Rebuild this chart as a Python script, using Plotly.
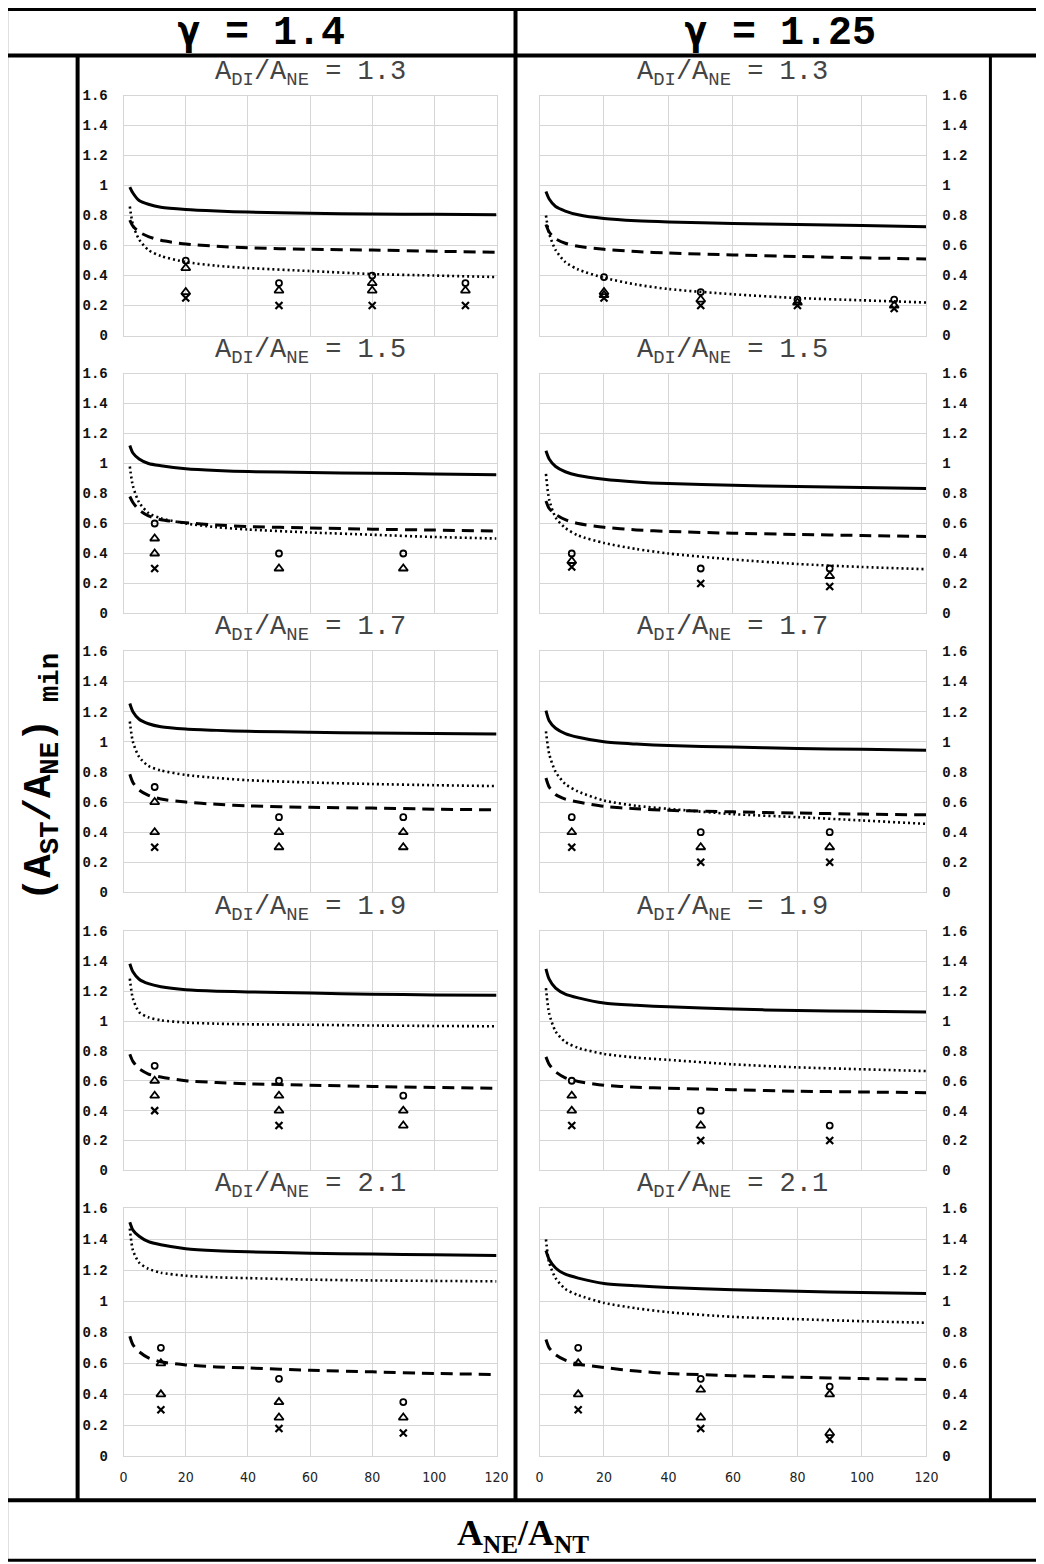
import plotly.graph_objects as go

# ---------------- data ----------------
GAMMAS = ["1.4", "1.25"]
RATIOS = ["1.3", "1.5", "1.7", "1.9", "2.1"]
X_TICKS = [0, 20, 40, 60, 80, 100, 120]
Y_TICKS = [0, 0.2, 0.4, 0.6, 0.8, 1, 1.2, 1.4, 1.6]
X_CURVE = [2, 3, 5, 8, 12, 20, 30, 40, 60, 80, 100, 120]

# gamma = 1.4
L13_solid = [0.99, 0.95, 0.90, 0.875, 0.855, 0.84, 0.83, 0.823, 0.815, 0.81, 0.808, 0.805]
L13_dash = [0.77, 0.73, 0.69, 0.66, 0.635, 0.61, 0.595, 0.585, 0.575, 0.57, 0.562, 0.555]
L13_dot = [0.86, 0.74, 0.64, 0.57, 0.53, 0.49, 0.465, 0.45, 0.43, 0.41, 0.40, 0.39]
L15_solid = [1.12, 1.07, 1.03, 1.00, 0.985, 0.965, 0.953, 0.946, 0.94, 0.935, 0.93, 0.925]
L15_dash = [0.78, 0.74, 0.69, 0.65, 0.625, 0.605, 0.59, 0.58, 0.57, 0.562, 0.556, 0.55]
L15_dot = [0.98, 0.85, 0.74, 0.67, 0.635, 0.60, 0.575, 0.56, 0.54, 0.525, 0.51, 0.50]
L17_solid = [1.255, 1.2, 1.15, 1.12, 1.10, 1.085, 1.076, 1.07, 1.063, 1.058, 1.055, 1.052]
L17_dash = [0.785, 0.73, 0.68, 0.645, 0.62, 0.60, 0.585, 0.575, 0.565, 0.56, 0.553, 0.548]
L17_dot = [1.135, 1.0, 0.90, 0.84, 0.81, 0.78, 0.76, 0.745, 0.73, 0.72, 0.712, 0.706]
L19_solid = [1.384, 1.33, 1.28, 1.25, 1.23, 1.21, 1.2, 1.195, 1.187, 1.18, 1.175, 1.172]
L19_dash = [0.778, 0.73, 0.68, 0.645, 0.625, 0.60, 0.588, 0.58, 0.57, 0.562, 0.555, 0.55]
L19_dot = [1.284, 1.15, 1.06, 1.025, 1.005, 0.99, 0.982, 0.978, 0.975, 0.97, 0.967, 0.965]
L21_solid = [1.51, 1.46, 1.42, 1.385, 1.365, 1.34, 1.327, 1.32, 1.31, 1.305, 1.3, 1.296]
L21_dash = [0.775, 0.72, 0.675, 0.635, 0.61, 0.59, 0.577, 0.57, 0.555, 0.545, 0.535, 0.528]
L21_dot = [1.47, 1.33, 1.25, 1.21, 1.185, 1.165, 1.155, 1.15, 1.14, 1.135, 1.132, 1.129]

# gamma = 1.25
R13_solid = [0.96, 0.91, 0.86, 0.83, 0.805, 0.78, 0.765, 0.757, 0.747, 0.74, 0.733, 0.725]
R13_dash = [0.74, 0.69, 0.645, 0.615, 0.595, 0.575, 0.56, 0.55, 0.537, 0.527, 0.518, 0.51]
R13_dot = [0.80, 0.68, 0.57, 0.49, 0.44, 0.385, 0.34, 0.31, 0.275, 0.25, 0.235, 0.22]
R15_solid = [1.085, 1.03, 0.98, 0.945, 0.92, 0.895, 0.877, 0.866, 0.855, 0.846, 0.84, 0.834]
R15_dash = [0.75, 0.70, 0.66, 0.625, 0.60, 0.575, 0.557, 0.547, 0.535, 0.527, 0.52, 0.513]
R15_dot = [0.93, 0.76, 0.64, 0.57, 0.52, 0.47, 0.43, 0.40, 0.36, 0.33, 0.31, 0.295]
R17_solid = [1.207, 1.14, 1.09, 1.055, 1.03, 1.0, 0.985, 0.975, 0.965, 0.956, 0.95, 0.944]
R17_dash = [0.76, 0.70, 0.65, 0.62, 0.60, 0.572, 0.555, 0.545, 0.535, 0.527, 0.52, 0.515]
R17_dot = [1.07, 0.92, 0.80, 0.72, 0.67, 0.61, 0.575, 0.555, 0.52, 0.50, 0.478, 0.455]
R19_solid = [1.35, 1.28, 1.22, 1.18, 1.155, 1.12, 1.105, 1.095, 1.08, 1.07, 1.065, 1.06]
R19_dash = [0.76, 0.71, 0.66, 0.62, 0.595, 0.57, 0.557, 0.55, 0.54, 0.53, 0.525, 0.52]
R19_dot = [1.22, 1.05, 0.93, 0.86, 0.82, 0.78, 0.755, 0.74, 0.71, 0.69, 0.677, 0.665]
R21_solid = [1.327, 1.27, 1.215, 1.175, 1.15, 1.115, 1.1, 1.09, 1.075, 1.065, 1.057, 1.05]
R21_dash = [0.754, 0.70, 0.655, 0.62, 0.595, 0.573, 0.55, 0.535, 0.52, 0.51, 0.502, 0.496]
R21_dot = [1.40, 1.25, 1.15, 1.08, 1.04, 0.99, 0.955, 0.93, 0.90, 0.885, 0.872, 0.862]

# scattered points: x positions, circles, upper triangles, lower triangles, crosses
L13_px = [20, 50, 80, 110]
L13_circ = [0.5, 0.35, 0.4, 0.35]
L13_triA = [0.45, 0.30, 0.35, 0.30]
L13_triB = [0.29, None, 0.30, None]
L13_cross = [0.25, 0.20, 0.20, 0.20]
L15_px = [10, 50, 90]
L15_circ = [0.6, 0.4, 0.4]
L15_triA = [0.5, 0.3, 0.3]
L15_triB = [0.4, None, None]
L15_cross = [0.3, None, None]
L17_px = [10, 50, 90]
L17_circ = [0.7, 0.5, 0.5]
L17_triA = [0.6, 0.4, 0.4]
L17_triB = [0.4, 0.3, 0.3]
L17_cross = [0.3, None, None]
L19_px = [10, 50, 90]
L19_circ = [0.7, 0.6, 0.5]
L19_triA = [0.6, 0.5, 0.4]
L19_triB = [0.5, 0.4, 0.3]
L19_cross = [0.4, 0.3, None]
L21_px = [12, 50, 90]
L21_circ = [0.7, 0.5, 0.35]
L21_triA = [0.6, 0.35, 0.25]
L21_triB = [0.4, 0.25, None]
L21_cross = [0.3, 0.18, 0.15]

R13_px = [20, 50, 80, 110]
R13_circ = [0.39, 0.29, 0.24, 0.24]
R13_triA = [0.29, 0.24, 0.22, 0.20]
R13_triB = [0.27, None, None, None]
R13_cross = [0.25, 0.20, 0.20, 0.18]
R15_px = [10, 50, 90]
R15_circ = [0.40, 0.30, 0.30]
R15_triA = [0.35, None, 0.25]
R15_triB = [None, None, None]
R15_cross = [0.31, 0.20, 0.18]
R17_px = [10, 50, 90]
R17_circ = [0.5, 0.4, 0.4]
R17_triA = [0.4, 0.3, 0.3]
R17_triB = [None, None, None]
R17_cross = [0.3, 0.2, 0.2]
R19_px = [10, 50, 90]
R19_circ = [0.6, 0.4, 0.3]
R19_triA = [0.5, 0.3, None]
R19_triB = [0.4, None, None]
R19_cross = [0.3, 0.2, 0.2]
R21_px = [12, 50, 90]
R21_circ = [0.70, 0.50, 0.45]
R21_triA = [0.60, 0.43, 0.40]
R21_triB = [0.40, 0.25, 0.15]
R21_cross = [0.30, 0.18, 0.11]

PANELS = [
    [  # gamma 1.4
        (L13_solid, L13_dash, L13_dot, L13_px, L13_circ, L13_triA, L13_triB, L13_cross),
        (L15_solid, L15_dash, L15_dot, L15_px, L15_circ, L15_triA, L15_triB, L15_cross),
        (L17_solid, L17_dash, L17_dot, L17_px, L17_circ, L17_triA, L17_triB, L17_cross),
        (L19_solid, L19_dash, L19_dot, L19_px, L19_circ, L19_triA, L19_triB, L19_cross),
        (L21_solid, L21_dash, L21_dot, L21_px, L21_circ, L21_triA, L21_triB, L21_cross),
    ],
    [  # gamma 1.25
        (R13_solid, R13_dash, R13_dot, R13_px, R13_circ, R13_triA, R13_triB, R13_cross),
        (R15_solid, R15_dash, R15_dot, R15_px, R15_circ, R15_triA, R15_triB, R15_cross),
        (R17_solid, R17_dash, R17_dot, R17_px, R17_circ, R17_triA, R17_triB, R17_cross),
        (R19_solid, R19_dash, R19_dot, R19_px, R19_circ, R19_triA, R19_triB, R19_cross),
        (R21_solid, R21_dash, R21_dot, R21_px, R21_circ, R21_triA, R21_triB, R21_cross),
    ],
]

# ---------------- layout geometry ----------------
BODY_M = 8                      # default browser body margin
W, H = 1052, 1572               # figure size in px
# target positions below are in screenshot pixels; mapped to page px
SX, OX = 0.985, 3.5
SY, OY = 0.99, 6.5
COL_X = [(123, 496), (539, 926)]
ROW_Y = [(95, 335), (373, 613), (651, 892), (931, 1170), (1208, 1456)]
MONO = "Liberation Mono, Courier New, monospace"
NARROW = "Liberation Sans Narrow, DejaVu Sans Condensed, Arial Narrow, sans-serif"
GRID = "#d6d6d6"


def px(x):
    page = (x - OX) / SX
    return (page - BODY_M) / W


def py(y):
    page = (y - OY) / SY
    return 1 - (page - BODY_M) / H


fig = go.Figure()
layout = dict(
    width=W, height=H, margin=dict(l=0, r=0, t=0, b=0),
    paper_bgcolor="white", plot_bgcolor="white", showlegend=False,
)
annotations = []

n = 0
for c in range(2):
    for r in range(5):
        n += 1
        xa = "x" if n == 1 else f"x{n}"
        ya = "y" if n == 1 else f"y{n}"
        solid, dash, dot, mx, circ, triA, triB, cross = PANELS[c][r]
        line_common = dict(color="black", shape="spline", smoothing=0.7)
        fig.add_trace(go.Scatter(x=X_CURVE, y=solid, mode="lines", xaxis=xa, yaxis=ya,
                                 line=dict(width=3, **line_common), hoverinfo="skip"))
        fig.add_trace(go.Scatter(x=X_CURVE, y=dash, mode="lines", xaxis=xa, yaxis=ya,
                                 line=dict(width=3, dash="12px,7px", **line_common), hoverinfo="skip"))
        fig.add_trace(go.Scatter(x=X_CURVE, y=dot, mode="lines", xaxis=xa, yaxis=ya,
                                 line=dict(width=2.6, dash="2px,3px", **line_common), hoverinfo="skip"))
        for vals, sym, size, lw in [
            (circ, "circle-open", 6, 1.8),
            (triA, "triangle-up-open", 8, 1.8),
            (triB, "triangle-up-open", 8, 1.8),
            (cross, "x-thin-open", 7, 2.2),
        ]:
            fig.add_trace(go.Scatter(x=mx, y=vals, mode="markers", xaxis=xa, yaxis=ya,
                                     marker=dict(symbol=sym, size=size, color="black",
                                                 line=dict(width=lw, color="black")),
                                     hoverinfo="skip"))

        x0, x1 = COL_X[c]
        y0, y1 = ROW_Y[r]
        key_x = "xaxis" if n == 1 else f"xaxis{n}"
        key_y = "yaxis" if n == 1 else f"yaxis{n}"
        layout[key_x] = dict(
            domain=[px(x0), px(x1)], anchor=ya, range=[0, 120],
            tickvals=X_TICKS, showticklabels=(r == 4),
            tickfont=dict(family=NARROW, size=14, color="#222"),
            ticks="", ticklabelstandoff=8,
            showgrid=True, gridcolor=GRID, gridwidth=1, zeroline=False,
            showline=True, linecolor=GRID, linewidth=1, mirror=True,
        )
        layout[key_y] = dict(
            domain=[py(y1), py(y0)], anchor=xa, range=[0, 1.6],
            tickvals=Y_TICKS, side="left" if c == 0 else "right",
            tickfont=dict(family=MONO, size=14, color="#111", weight="bold"),
            ticks="", ticklabelstandoff=12,
            showgrid=True, gridcolor=GRID, gridwidth=1, zeroline=False,
            showline=True, linecolor=GRID, linewidth=1, mirror=True,
        )
        annotations.append(dict(
            text=f"A<sub>DI</sub>/A<sub>NE</sub> = {RATIOS[r]}",
            x=px((x0 + x1) / 2), y=py(y0 - 3), xref="paper", yref="paper",
            xanchor="center", yanchor="bottom", showarrow=False,
            font=dict(family=MONO, size=27, color="#444"),
        ))

# headers
for c, cx in enumerate([260, 780]):
    annotations.append(dict(
        text=f"<span style='font-family:DejaVu Sans Mono'>γ</span> = {GAMMAS[c]}",
        x=px(cx), y=py(31), xref="paper", yref="paper",
        xanchor="center", yanchor="middle", showarrow=False,
        font=dict(family=MONO, size=40, color="black", weight="bold"),
    ))

annotations.append(dict(
    text="(A<sub>ST</sub>/A<sub>NE</sub>)<sub> min</sub>", x=px(42), y=py(777),
    xref="paper", yref="paper", xanchor="center", yanchor="middle",
    textangle=-90, showarrow=False,
    font=dict(family=MONO, size=39, color="black", weight="bold"),
))
annotations.append(dict(
    text="A<sub>NE</sub>/A<sub>NT</sub>", x=px(522), y=py(1535),
    xref="paper", yref="paper", xanchor="center", yanchor="middle", showarrow=False,
    font=dict(family="Liberation Serif, DejaVu Serif, serif", size=36, color="black", weight="bold"),
))

shapes = []


def hline(y, xa, xb, w):
    shapes.append(dict(type="line", xref="paper", yref="paper", x0=px(xa), x1=px(xb),
                       y0=py(y), y1=py(y), line=dict(color="black", width=w)))


def vline(x, ya, yb, w):
    shapes.append(dict(type="line", xref="paper", yref="paper", x0=px(x), x1=px(x),
                       y0=py(ya), y1=py(yb), line=dict(color="black", width=w)))


hline(9, 5, 1050, 3)
hline(55, 5, 1050, 4)
hline(1500, 5, 1050, 4)
hline(1560, 5, 1050, 3)
vline(6, 8, 1561, 3)
vline(515, 9, 1500, 4)
vline(77, 55, 1500, 4)
vline(990, 55, 1500, 3)

layout["annotations"] = annotations
layout["shapes"] = shapes
fig.update_layout(**layout)
fig.write_html("out.html")
